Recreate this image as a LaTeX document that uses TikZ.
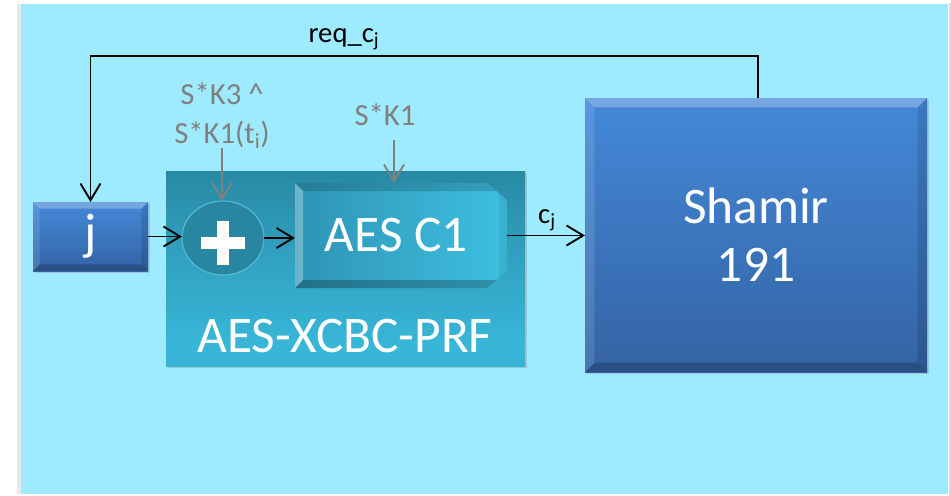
\documentclass[tikz,border=0pt]{standalone}
\usepackage{fontspec}
\setmainfont{Carlito}
\usetikzlibrary{arrows.meta,shapes.geometric,shadows,calc}

\definecolor{bgcyan}{RGB}{158,234,254}
\definecolor{boxtop}{RGB}{68,137,216}
\definecolor{boxbot}{RGB}{52,99,164}
\definecolor{prfdark}{RGB}{38,134,160}
\definecolor{prfmid}{RGB}{56,182,216}
\definecolor{prflow}{RGB}{40,140,168}
\definecolor{aesleft}{RGB}{46,148,180}
\definecolor{aesright}{RGB}{62,192,226}
\definecolor{xorfill}{RGB}{40,134,160}
\definecolor{xorrim}{RGB}{86,188,214}
\definecolor{keygray}{RGB}{128,128,128}

% vertical colour run of the PRF frame (bottom to top)
\pgfdeclareverticalshading{prfshade}{100bp}{%
  color(0bp)=(prflow); color(12bp)=(prfmid!70!prflow); color(30bp)=(prfmid);
  color(52bp)=(prfmid!60!prfdark); color(78bp)=(prfdark); color(100bp)=(prfdark)}

\newcommand\fntbig{\fontsize{38.5}{43.3}\selectfont}
\newcommand\fntkey{\fontsize{23}{29}\selectfont}
\newcommand\fntsig{\fontsize{21.5}{26}\selectfont}

\tikzset{
  % light top/left edges and dark bottom/right edges of a raised box
  bevel/.style={path picture={
    \coordinate (bvA) at (path picture bounding box.north west);
    \coordinate (bvB) at (path picture bounding box.north east);
    \coordinate (bvC) at (path picture bounding box.south east);
    \coordinate (bvD) at (path picture bounding box.south west);
    \fill[white,opacity=0.26] (bvA) -- (bvB) -- ([xshift=-#1,yshift=-#1]bvB) -- ([xshift=#1,yshift=-#1]bvA) -- cycle;
    \fill[white,opacity=0.12] (bvA) -- ([xshift=#1,yshift=-#1]bvA) -- ([xshift=#1,yshift=#1]bvD) -- (bvD) -- cycle;
    \fill[black,opacity=0.2] (bvD) -- (bvC) -- ([xshift=-#1,yshift=#1]bvC) -- ([xshift=#1,yshift=#1]bvD) -- cycle;
    \fill[black,opacity=0.12] (bvB) -- (bvC) -- ([xshift=-#1,yshift=#1]bvC) -- ([xshift=-#1,yshift=-#1]bvB) -- cycle;
  }},
  softshadow/.style={drop shadow={opacity=0.3,shadow xshift=1.5pt,shadow yshift=-1.5pt}},
  bluebox/.style={rectangle, top color=boxtop, bottom color=boxbot, text=white,
    font=\fntbig, align=center, softshadow},
  prfbox/.style={rectangle, shading=prfshade, softshadow},
  % block with its two right-hand corners cut off
  aesbox/.style={rectangle, text=white, font=\fntbig, path picture={
    \coordinate (aA) at (path picture bounding box.north west);
    \coordinate (aB) at (path picture bounding box.north east);
    \coordinate (aC) at (path picture bounding box.south east);
    \coordinate (aD) at (path picture bounding box.south west);
    \shade[left color=aesleft, right color=aesright]
      (aA) -- ([xshift=-15pt]aB) -- ([yshift=-12.75pt]aB) -- ([yshift=12.75pt]aC)
      -- ([xshift=-15pt]aC) -- (aD) -- cycle;
    \clip (aA) -- ([xshift=-15pt]aB) -- ([yshift=-12.75pt]aB) -- ([yshift=12.75pt]aC)
      -- ([xshift=-15pt]aC) -- (aD) -- cycle;
    \fill[black,opacity=0.16] (aA) -- (aB) -- ([xshift=-6pt,yshift=-6pt]aB) -- ([xshift=6pt,yshift=-6pt]aA) -- cycle;
    \fill[white,opacity=0.3] (aA) -- ([xshift=6pt,yshift=-6pt]aA) -- ([xshift=6pt,yshift=6pt]aD) -- (aD) -- cycle;
    \fill[black,opacity=0.24] (aD) -- (aC) -- ([xshift=-6pt,yshift=6pt]aC) -- ([xshift=6pt,yshift=6pt]aD) -- cycle;
    \fill[black,opacity=0.08] ([xshift=-6pt,yshift=-6pt]aB) -- (aB) -- (aC) -- ([xshift=-6pt,yshift=6pt]aC) -- cycle;
  }},
  xorbox/.style={ellipse, fill=xorfill, draw=xorrim, line width=0.8pt,
    path picture={
      \draw[white,line width=9pt] ([xshift=-16.5pt,yshift=-3.75pt]path picture bounding box.center)
        -- ([xshift=16.5pt,yshift=-3.75pt]path picture bounding box.center);
      \draw[white,line width=9pt] ([yshift=12.75pt]path picture bounding box.center)
        -- ([yshift=-20.25pt]path picture bounding box.center);
    }},
  arr/.style={draw=black, line width=1.4pt, -{Straight Barb[length=12.5pt,width=15pt]}},
  keyarr/.style={arr, draw=keygray},
  keylabel/.style={text=keygray, font=\fntkey, align=center},
  siglabel/.style={text=black, font=\fntsig},
}

\begin{document}
\begin{tikzpicture}[x=0.75pt,y=-0.75pt, every node/.style={inner sep=0pt, outer sep=0pt}]
  \useasboundingbox (0,0) rectangle (951,496);
  % page and panel
  \fill[white] (0,0) rectangle (951,496);
  \fill[gray!18] (17,4) rectangle (21,494);
  \fill[gray!30] (949,3) rectangle (951,496);
  \fill[bgcyan] (21,4) rectangle (948,494);

  % blocks
  \node[bluebox, bevel=5pt, minimum width=86.25pt, minimum height=51.75pt] (j) at (90.5,236.5) {j};
  \node[prfbox, minimum width=269.25pt, minimum height=146.25pt] (prf) at (345.5,268.5) {};
  \node[anchor=base, text=white, font=\fntbig] (prflabel) at (345,352.5) {AES-XCBC-PRF};
  \node[xorbox, minimum width=61.5pt, minimum height=55.5pt] (xor) at (223,238) {};
  \node[aesbox, minimum width=159pt, minimum height=78.75pt] (aes) at (401,235.5) {AES C1\hspace*{7pt}};
  \node[bluebox, bevel=7pt, minimum width=256.5pt, minimum height=205.5pt] (shamir) at (756,235)
    {Shamir\\[0pt]191};

  % key inputs
  \node[keylabel, anchor=south] (k3) at (222,148) {S*K3 \^{}\\S*K1(t\textsubscript{i})};
  \node[keylabel, anchor=base] (k1) at (385,125) {S*K1};
  \draw[keyarr] (k3.south) -- (k3.south |- xor.north);
  \draw[keyarr] ([xshift=6.75pt,yshift=-11.25pt]k1.base) -- ([xshift=-5.25pt]aes.north);

  % data path
  \draw[arr] (j.east) -- (j.east -| xor.west);
  \draw[arr] (xor.east) -- (xor.east -| aes.west);
  \draw[arr] (aes.east) -- (aes.east -| shamir.west);
  \node[siglabel, anchor=base] (cj) at (547,223) {c\textsubscript{j}};

  % request fed back from the Shamir block
  \draw[arr] ([xshift=1.5pt]shamir.north) -- ++(0,-42) -| (j.north);
  \node[siglabel, anchor=base] (req) at (344,42.5) {req\_c\textsubscript{j}};
\end{tikzpicture}
\end{document}
